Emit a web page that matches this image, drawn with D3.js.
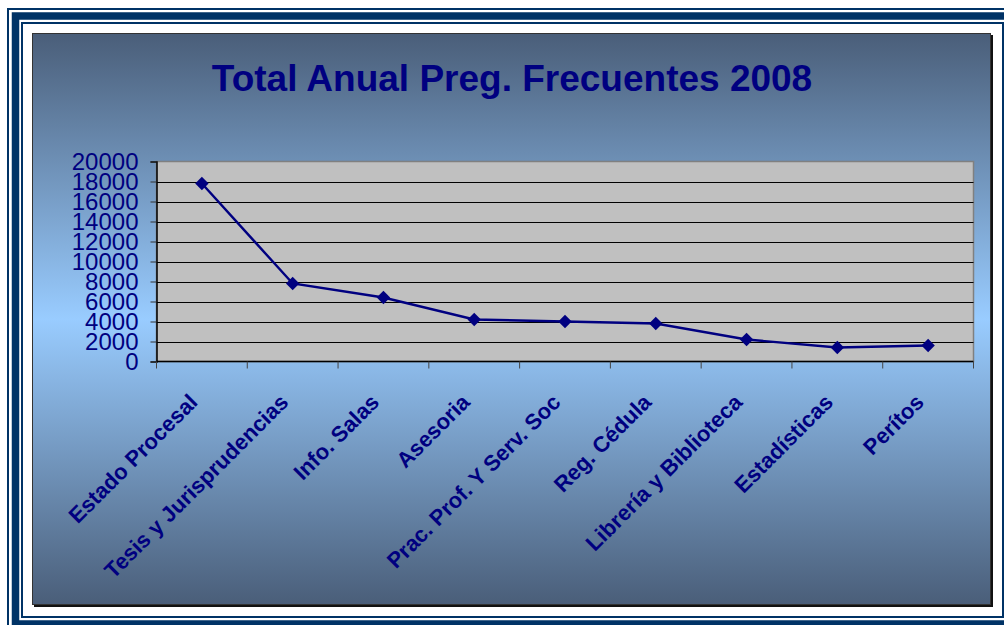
<!DOCTYPE html>
<html>
<head>
  <meta charset="utf-8">
  <title>Total Anual Preg. Frecuentes 2008</title>
  <script src="https://d3js.org/d3.v7.min.js"></script>
  <style>
    body { margin: 0; background: #fff; }
    text { font-family: Arial, "Liberation Sans", sans-serif; }
  </style>
</head>
<body>
<script>
    // data
    var categories = ["Estado Procesal", "Tesis y Jurisprudencias", "Info. Salas", "Asesoria",
                      "Prac. Prof. Y Serv. Soc", "Reg. Cédula", "Librería y Biblioteca",
                      "Estadísticas", "Perítos"]
    var totals = [17800, 7800, 6400, 4200, 4000, 3800, 2200, 1400, 1600]
    var yTicks = [0, 2000, 4000, 6000, 8000, 10000, 12000, 14000, 16000, 18000, 20000]
    var title = "Total Anual Preg. Frecuentes 2008"

    var navy = "#000080", frameBlue = "#003366"

    var svg = d3.select("body").append("svg")
        .attr("width", 1004).attr("height", 625)

    // gradient for the chart area
    var grad = svg.append("defs").append("linearGradient")
        .attr("id", "bg").attr("x1", 0).attr("y1", 0).attr("x2", 0).attr("y2", 1)
    grad.append("stop").attr("offset", "0%").attr("stop-color", "#4a5e79")
    grad.append("stop").attr("offset", "50%").attr("stop-color", "#99ccff")
    grad.append("stop").attr("offset", "100%").attr("stop-color", "#4a5e79")

    // page frame (clipped at right and bottom like the original)
    svg.append("rect").attr("x", 8).attr("y", 9).attr("width", 1009).attr("height", 622)
        .attr("fill", "none").attr("stroke", frameBlue).attr("stroke-width", 2)
    svg.append("rect").attr("x", 15.5).attr("y", 16).attr("width", 994).attr("height", 608)
        .attr("fill", "none").attr("stroke", frameBlue).attr("stroke-width", 7.5)
    svg.append("rect").attr("x", 22).attr("y", 23).attr("width", 981).attr("height", 594)
        .attr("fill", "none").attr("stroke", frameBlue).attr("stroke-width", 2)

    // chart area with shadow
    svg.append("rect").attr("x", 34).attr("y", 35).attr("width", 959).attr("height", 572)
        .attr("fill", "#111")
    svg.append("rect").attr("x", 32.5).attr("y", 33.5).attr("width", 958).attr("height", 571)
        .attr("fill", "url(#bg)").attr("stroke", "#333").attr("stroke-width", 1)

    // title
    svg.append("text")
        .attr("x", 512).attr("y", 91)
        .attr("text-anchor", "middle")
        .attr("font-size", "37px").attr("font-weight", "bold")
        .attr("fill", navy)
        .text(title)

    // scales
    var plot = {left: 156.5, right: 973.5, top: 161.5, bottom: 361.5}
    var x = d3.scaleBand().domain(categories).range([plot.left, plot.right])
    var y = d3.scaleLinear().domain([0, 20000]).range([plot.bottom, plot.top])

    // plot area
    svg.append("rect")
        .attr("x", plot.left).attr("y", plot.top)
        .attr("width", plot.right - plot.left).attr("height", plot.bottom - plot.top)
        .attr("fill", "#c0c0c0").attr("stroke", "#808080").attr("stroke-width", 1.5)

    // gridlines
    svg.selectAll("line.grid").data(yTicks.slice(1, -1)).enter().append("line")
        .attr("class", "grid")
        .attr("x1", plot.left).attr("x2", plot.right)
        .attr("y1", function(d) { return Math.round(y(d)) + 0.5 })
        .attr("y2", function(d) { return Math.round(y(d)) + 0.5 })
        .attr("stroke", "#000").attr("stroke-width", 1)

    // y axis
    var yAxis = svg.append("g")
        .attr("transform", "translate(" + plot.left + ",0)")
        .call(d3.axisLeft(y).tickValues(yTicks).tickSize(6).tickPadding(12).tickFormat(d3.format("d")))
    yAxis.select(".domain").attr("stroke", "#000").attr("stroke-width", 1.5)
    yAxis.selectAll(".tick line").attr("stroke", "#333")
    yAxis.selectAll(".tick text")
        .attr("font-size", "24px").attr("fill", navy)
        .attr("font-family", "Arial, 'Liberation Sans', sans-serif")

    // x axis: ticks between categories
    var xTicks = categories.map(function(d) { return x(d) }).concat([plot.right])
    svg.append("line")
        .attr("x1", plot.left).attr("x2", plot.right)
        .attr("y1", plot.bottom).attr("y2", plot.bottom)
        .attr("stroke", "#000").attr("stroke-width", 1.5)
    svg.selectAll("line.xtick").data(xTicks).enter().append("line")
        .attr("class", "xtick")
        .attr("x1", function(d) { return d }).attr("x2", function(d) { return d })
        .attr("y1", plot.bottom).attr("y2", plot.bottom + 7)
        .attr("stroke", "#444").attr("stroke-width", 1)

    // category labels, rotated
    svg.selectAll("text.cat").data(categories).enter().append("text")
        .attr("class", "cat")
        .attr("text-anchor", "end")
        .attr("transform", function(d) {
            return "translate(" + (x(d) + x.bandwidth() / 2 - 3) + "," + (plot.bottom + 42) + ") rotate(-45)"
        })
        .attr("font-size", "22px").attr("font-weight", "bold")
        .attr("fill", navy)
        .text(function(d) { return d })

    // line and markers
    var line = d3.line()
        .x(function(d, i) { return x(categories[i]) + x.bandwidth() / 2 })
        .y(function(d) { return y(d) })
    svg.append("path").datum(totals)
        .attr("d", line)
        .attr("fill", "none").attr("stroke", navy).attr("stroke-width", 2.4)

    svg.selectAll("path.marker").data(totals).enter().append("path")
        .attr("class", "marker")
        .attr("d", d3.symbol().type(d3.symbolSquare).size(90))
        .attr("transform", function(d, i) {
            return "translate(" + (x(categories[i]) + x.bandwidth() / 2) + "," + y(d) + ") rotate(45)"
        })
        .attr("fill", navy)
</script>
</body>
</html>
